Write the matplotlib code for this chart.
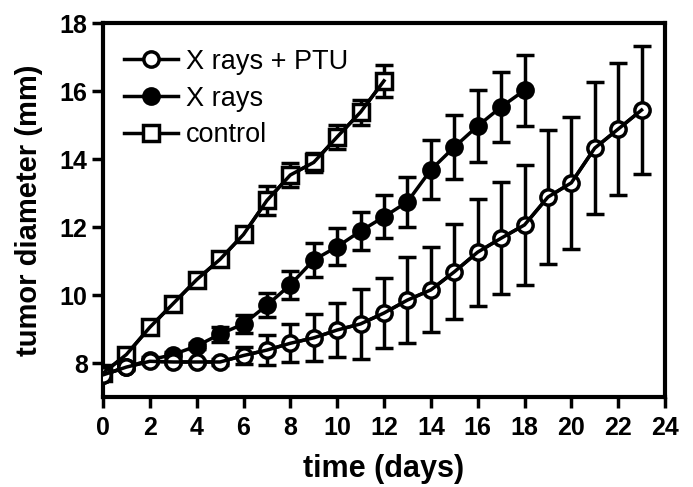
import matplotlib
matplotlib.use("Agg")
import matplotlib.pyplot as plt
from matplotlib.lines import Line2D

plt.rcParams['font.family'] = ['Liberation Sans', 'DejaVu Sans']

# Data
days_ctrl = list(range(0, 13))
ctrl_mean = [7.70, 8.25, 9.05, 9.75, 10.45, 11.05, 11.78, 12.78, 13.53, 13.90, 14.65, 15.38, 16.30]
ctrl_err = [0.10, 0.10, 0.10, 0.10, 0.12, 0.12, 0.15, 0.42, 0.35, 0.28, 0.36, 0.37, 0.47]

days_xr = list(range(0, 19))
xr_mean = [7.65, 7.88, 8.09, 8.25, 8.50, 8.85, 9.15, 9.70, 10.30, 11.03, 11.42, 11.88, 12.30,
           12.74, 13.68, 14.35, 14.97, 15.53, 16.02]
xr_err = [0.08, 0.08, 0.08, 0.08, 0.10, 0.22, 0.27, 0.35, 0.42, 0.50, 0.55, 0.57, 0.63,
          0.73, 0.87, 0.95, 1.06, 1.03, 1.05]

days_ptu = list(range(0, 24))
ptu_mean = [7.65, 7.88, 8.05, 8.03, 8.03, 8.03, 8.22, 8.38, 8.58, 8.74, 8.97, 9.15, 9.47,
            9.85, 10.15, 10.68, 11.26, 11.67, 12.06, 12.88, 13.30, 14.32, 14.88, 15.44]
ptu_err = [0.05, 0.05, 0.05, 0.05, 0.05, 0.08, 0.25, 0.44, 0.56, 0.69, 0.80, 1.02, 1.03,
           1.27, 1.25, 1.40, 1.57, 1.65, 1.77, 1.96, 1.94, 1.94, 1.93, 1.88]

labels = ["X rays + PTU", "X rays", "control"]
x_ticks = list(range(0, 25, 2))
y_ticks = list(range(8, 19, 2))

fig = plt.figure(figsize=(6.93, 4.87), dpi=100)
ax = fig.add_axes([103/693, 1-397/487, (665-103)/693, (397-23)/487])

lw = 2.5
ms = 11
cap = 6.5
common = dict(color='black', linewidth=lw, markersize=ms, capsize=cap, capthick=lw,
              elinewidth=lw, markeredgewidth=lw)

ax.errorbar(days_ctrl, ctrl_mean, yerr=ctrl_err, fmt='-s', markerfacecolor='white', zorder=3, **common)
ax.plot(days_ctrl, ctrl_mean, '-', color='black', lw=lw, zorder=4)
ax.errorbar(days_xr, xr_mean, yerr=xr_err, fmt='-o', markerfacecolor='black', zorder=3, **common)
ax.errorbar(days_ptu, ptu_mean, yerr=ptu_err, fmt='-o', markerfacecolor='white', zorder=3, **common)
ax.plot(days_ptu, ptu_mean, '-', color='black', lw=lw, zorder=4)

ax.set_xlim(0, 24)
ax.set_ylim(7, 18)
ax.set_xticks(x_ticks)
ax.set_yticks(y_ticks)
for sp in ax.spines.values():
    sp.set_linewidth(3)
ax.tick_params(direction='out', length=8, width=2.5, labelsize=18)
ax.tick_params(axis='x', pad=6)
ax.tick_params(axis='y', pad=3)
for lab in ax.get_xticklabels() + ax.get_yticklabels():
    lab.set_fontweight('bold')

ax.set_xlabel("time (days)", fontsize=22, fontweight='bold', labelpad=10)
ax.set_ylabel("tumor diameter (mm)", fontsize=21, fontweight='bold', labelpad=12)

handles = [
    Line2D([], [], color='black', lw=lw, marker='o', markersize=ms, markerfacecolor='white', markeredgewidth=lw),
    Line2D([], [], color='black', lw=lw, marker='o', markersize=ms, markerfacecolor='black', markeredgewidth=lw),
    Line2D([], [], color='black', lw=lw, marker='s', markersize=ms, markerfacecolor='white', markeredgewidth=lw),
]
ax.legend(handles, labels, loc='upper left', frameon=False, fontsize=19.5,
          handlelength=2.0, handletextpad=0.3, labelspacing=0.4,
          borderaxespad=0.0, bbox_to_anchor=(0.018, 0.96))

fig.savefig("out.png", dpi=100)
